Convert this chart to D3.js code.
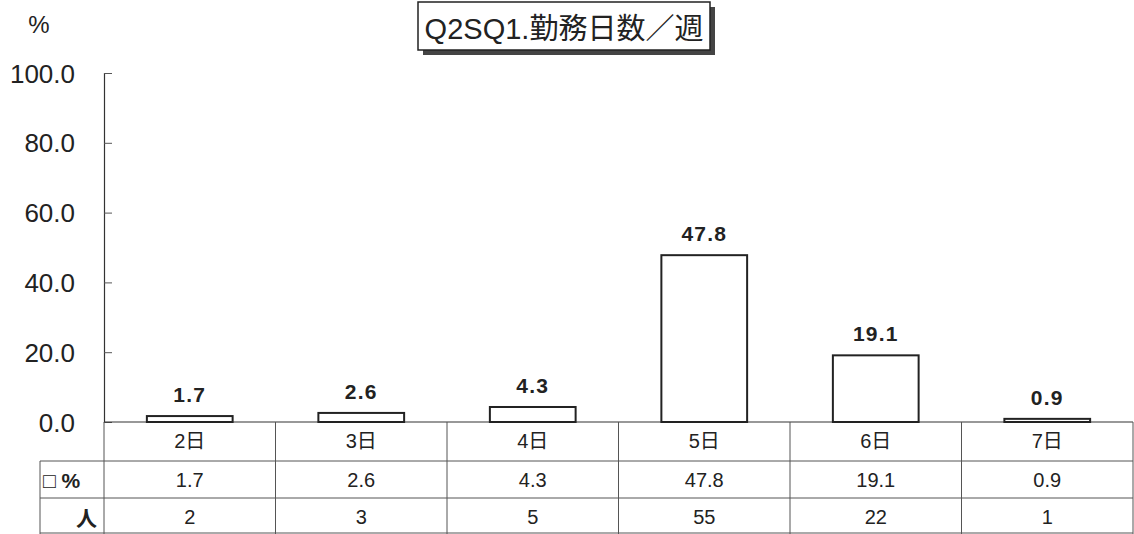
<!DOCTYPE html>
<html><head><meta charset="utf-8">
<script src="https://cdn.jsdelivr.net/npm/d3@7"></script>
<style>
html,body{margin:0;padding:0;background:#fff;}
svg{display:block;}
text{font-family:"Liberation Sans","Noto Sans CJK JP",Arial,sans-serif;fill:#222;}
</style></head>
<body>
<svg id="chart" width="1134" height="534"></svg>
<script>
const categories = ["2日","3日","4日","5日","6日","7日"];
const percents = [1.7, 2.6, 4.3, 47.8, 19.1, 0.9];
const counts = [2, 3, 5, 55, 22, 1];
const yTicks = [0, 20, 40, 60, 80, 100];
const titleText = "Q2SQ1.勤務日数／週";
const rowLabels = ["□ %", "人"];

const svg = d3.select("#chart");
const x0 = 104, x1 = 1133, yTop = 73, yZero = 422;
const x = d3.scaleBand().domain(categories).range([x0, x1]).paddingInner(0).paddingOuter(0);
const y = d3.scaleLinear().domain([0, 100]).range([yZero, yTop]);

// title box with shadow
const tb = {x: 418, y: 2, w: 292, h: 48};
svg.append("rect").attr("x", tb.x + 5).attr("y", tb.y + 5).attr("width", tb.w).attr("height", tb.h).attr("fill", "#444");
svg.append("rect").attr("x", tb.x).attr("y", tb.y).attr("width", tb.w).attr("height", tb.h).attr("fill", "#fff").attr("stroke", "#222").attr("stroke-width", 1.5);
svg.append("text").attr("x", tb.x + tb.w / 2).attr("y", tb.y + 37).attr("text-anchor", "middle").attr("font-size", 29).text(titleText);

// % unit label
svg.append("text").attr("x", 39).attr("y", 33).attr("text-anchor", "middle").attr("font-size", 24).text("%");

// y axis
const yAxis = d3.axisLeft(y).tickValues(yTicks).tickFormat(d3.format(".1f")).tickSizeInner(-8).tickSizeOuter(-8).tickPadding(29);
const ga = svg.append("g").attr("transform", `translate(${x0},0)`).call(yAxis);
ga.select(".domain").attr("stroke", "#333").attr("stroke-width", 1.2);
ga.selectAll(".tick line").attr("stroke", "#555").attr("stroke-width", 1);
ga.selectAll(".tick text").attr("font-size", 26).attr("fill", "#222").attr("dy", "0.35em").style("font-family", '"Liberation Sans",Arial,sans-serif');

// zero line
svg.append("line").attr("x1", x0).attr("x2", x1).attr("y1", yZero).attr("y2", yZero).attr("stroke", "#333").attr("stroke-width", 1.2);

// bars
const bw = x.bandwidth() * 0.5;
svg.selectAll("rect.bar").data(percents).enter().append("rect").attr("class", "bar")
  .attr("x", (d, i) => x(categories[i]) + (x.bandwidth() - bw) / 2)
  .attr("y", d => y(d))
  .attr("width", bw)
  .attr("height", d => yZero - y(d))
  .attr("fill", "#fff").attr("stroke", "#222").attr("stroke-width", 2);

// value labels
svg.selectAll("text.val").data(percents).enter().append("text").attr("class", "val")
  .attr("x", (d, i) => x(categories[i]) + x.bandwidth() / 2)
  .attr("y", d => y(d) - 14)
  .attr("text-anchor", "middle").attr("font-size", 21).attr("font-weight", "bold").attr("letter-spacing", 1.2)
  .text(d => d3.format(".1f")(d));

// data table
const rowY = [422, 461, 498, 534];
const tableLeft = 40;
const g = svg.append("g").attr("stroke", "#555").attr("stroke-width", 1);
g.append("line").attr("x1", x0).attr("x2", x1).attr("y1", rowY[1]).attr("y2", rowY[1]);
g.append("line").attr("x1", tableLeft).attr("x2", x0).attr("y1", rowY[1]).attr("y2", rowY[1]);
g.append("line").attr("x1", tableLeft).attr("x2", x1).attr("y1", rowY[2]).attr("y2", rowY[2]);
g.append("line").attr("x1", tableLeft).attr("x2", x1).attr("y1", rowY[3] - 1).attr("y2", rowY[3] - 1);
g.append("line").attr("x1", tableLeft).attr("x2", tableLeft).attr("y1", rowY[1]).attr("y2", rowY[3]);
g.append("line").attr("x1", x0).attr("x2", x0).attr("y1", yZero).attr("y2", rowY[3]);
categories.forEach(c => {
  const xr = x(c) + x.bandwidth();
  g.append("line").attr("x1", xr).attr("x2", xr).attr("y1", yZero).attr("y2", rowY[3]);
});

// category row
svg.selectAll("text.cat").data(categories).enter().append("text").attr("class", "cat")
  .attr("x", d => x(d) + x.bandwidth() / 2).attr("y", 448)
  .attr("text-anchor", "middle").attr("font-size", 20).text(d => d);
// percent row
svg.selectAll("text.pct").data(percents).enter().append("text").attr("class", "pct")
  .attr("x", (d, i) => x(categories[i]) + x.bandwidth() / 2).attr("y", 487)
  .attr("text-anchor", "middle").attr("font-size", 20).text(d => d3.format(".1f")(d));
// count row
svg.selectAll("text.cnt").data(counts).enter().append("text").attr("class", "cnt")
  .attr("x", (d, i) => x(categories[i]) + x.bandwidth() / 2).attr("y", 524)
  .attr("text-anchor", "middle").attr("font-size", 20).text(d => d);
// row labels
svg.append("text").attr("x", 43).attr("y", 488).attr("font-size", 21).attr("font-weight", "bold").text(rowLabels[0]);
svg.append("text").attr("x", 97).attr("y", 526).attr("text-anchor", "end").attr("font-size", 21).attr("font-weight", "bold").text(rowLabels[1]);
</script>
</body></html>
